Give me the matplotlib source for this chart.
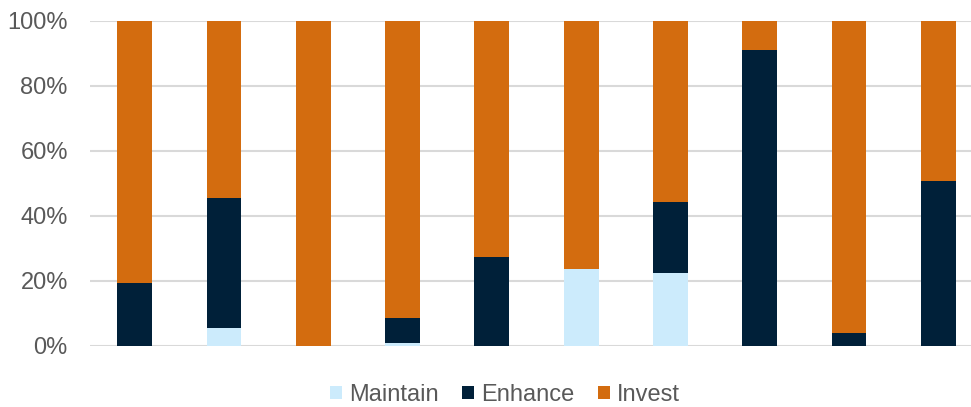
import matplotlib
matplotlib.use("Agg")
import matplotlib.pyplot as plt
import numpy as np

plt.rcParams['font.family'] = ['Liberation Sans', 'DejaVu Sans']

categories = [f"C{i}" for i in range(1, 11)]
maintain = [0.0, 5.3, 0.0, 0.9, 0.0, 23.4, 22.2, 0.0, 0.0, 0.0]
enhance = [19.1, 40.2, 0.0, 7.6, 27.2, 0.0, 21.9, 90.9, 3.7, 50.7]
invest = [100 - m - e for m, e in zip(maintain, enhance)]

colors = {"Maintain": "#CCEBFC", "Enhance": "#002039", "Invest": "#D36C0F"}

fig = plt.figure(figsize=(9.71, 4.07), dpi=100)
W, H = 971, 407
left, right = 90, 971
bottom, top = 407 - 345.5, 407 - 20.5
ax = fig.add_axes([left / W, bottom / H, (right - left) / W, (top - bottom) / H])

x = np.arange(len(categories))
w = 0.39
ax.bar(x, maintain, w, color=colors["Maintain"], label="Maintain", zorder=3)
ax.bar(x, enhance, w, bottom=maintain, color=colors["Enhance"], label="Enhance", zorder=3)
b2 = [m + e for m, e in zip(maintain, enhance)]
ax.bar(x, invest, w, bottom=b2, color=colors["Invest"], label="Invest", zorder=3)

step = 89.3
ax.set_xlim(-0.5, -0.5 + (right - left) / step)
ax.set_ylim(0, 100)
ax.set_yticks(range(0, 101, 20))
ax.set_yticklabels([f"{v}%" for v in range(0, 101, 20)])
ax.yaxis.grid(True, color="#D9D9D9", linewidth=1.5, zorder=0)
ax.set_xticks([])
for s in ax.spines.values():
    s.set_visible(False)
ax.tick_params(axis="y", length=0, pad=16, labelsize=17, labelcolor="#595959")

leg = fig.legend(loc="center", bbox_to_anchor=(505 / W, 1 - 395 / H), ncol=3, frameon=False,
                 fontsize=17, handlelength=0.5, handleheight=0.5, handletextpad=0.3,
                 columnspacing=1.0, labelcolor="#595959")

fig.savefig("out.png", dpi=100)
